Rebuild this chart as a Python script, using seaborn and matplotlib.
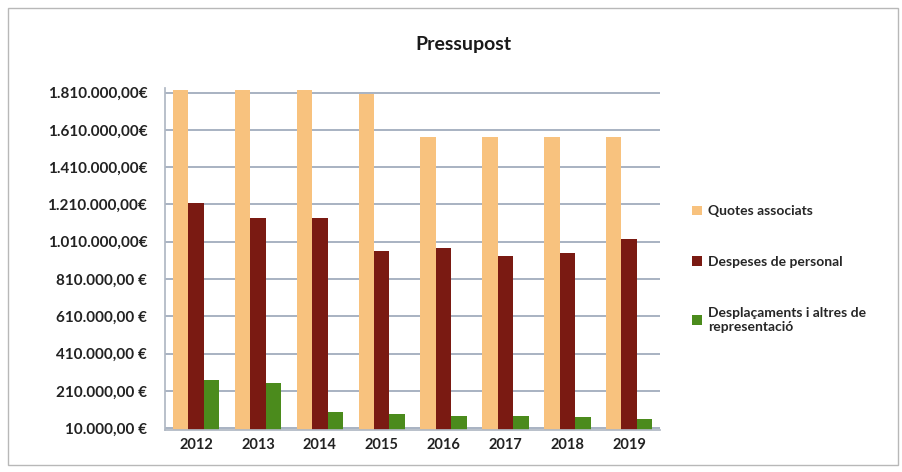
import numpy as np
import pandas as pd
import seaborn as sns
import matplotlib.pyplot as plt
from matplotlib.patches import Rectangle

#data
years = ['2012', '2013', '2014', '2015', '2016', '2017', '2018', '2019']
quotes = [1825000, 1825000, 1825000, 1805000, 1570000, 1570000, 1570000, 1572000]
personal = [1220000, 1140000, 1140000, 960000, 975000, 932000, 947000, 1027000]
desplacaments = [268000, 250000, 94000, 85000, 75000, 75000, 72000, 60000]
series_names = ['Quotes associats', 'Despeses de personal',
                'Desplaçaments i altres de representació']
legend_labels = ['Quotes associats', 'Despeses de personal',
                 'Desplaçaments i altres de\nrepresentació']
tick_values = [10000, 210000, 410000, 610000, 810000, 1010000,
               1210000, 1410000, 1610000, 1810000]
tick_labels = ['10.000,00 €', '210.000,00 €', '410.000,00 €', '610.000,00 €',
               '810.000,00 €', '1.010.000,00€', '1.210.000,00€', '1.410.000,00€',
               '1.610.000,00€', '1.810.000,00€']
colors = ['#F8C27E', '#7A1A12', '#4B8B1C']

df = pd.DataFrame({
    'year': years * 3,
    'serie': [s for s in series_names for _ in years],
    'value': quotes + personal + desplacaments,
})

sns.set_theme(style='white')
plt.rcParams['font.family'] = ['Lato', 'DejaVu Sans']

fig = plt.figure(figsize=(9.03, 4.72), dpi=100)
ax = fig.add_axes([0.183, 0.089, 0.548, 0.725])

sns.barplot(data=df, x='year', y='value', hue='serie', palette=colors,
            width=0.75, saturation=1, ax=ax, edgecolor='none')

ax.set_ylim(0, 1836000)
ax.set_yticks(tick_values)
ax.set_yticklabels(tick_labels, fontsize=11, fontweight='bold', color='#222222')
ax.tick_params(axis='x', labelsize=10.5, labelcolor='#222222', pad=6, length=0)
ax.tick_params(axis='y', pad=13, length=0)
for lbl in ax.get_xticklabels():
    lbl.set_fontweight('bold')
ax.set_xlabel('')
ax.set_ylabel('')
ax.yaxis.grid(True, color='#9AA6B8', linewidth=1.2)
ax.set_axisbelow(True)
for side in ['top', 'right']:
    ax.spines[side].set_visible(False)
for side in ['left', 'bottom']:
    ax.spines[side].set_color('#B0B8C4')

handles, _ = ax.get_legend_handles_labels()
ax.legend(handles, legend_labels, loc='center left', bbox_to_anchor=(1.04, 0.47),
          frameon=False, handlelength=0.7, handleheight=0.7,
          handletextpad=0.4, labelspacing=2.8, prop={'weight': 'bold', 'size': 10})

fig.text(0.513, 0.905, 'Pressupost', ha='center', va='center',
         fontsize=14, fontweight='bold', color='#1a1a1a')

fig.patches.append(Rectangle((0.009, 0.015), 0.985, 0.968, transform=fig.transFigure,
                             fill=False, edgecolor='#B8B8B8', linewidth=1))

fig.savefig('out.png', dpi=100)
